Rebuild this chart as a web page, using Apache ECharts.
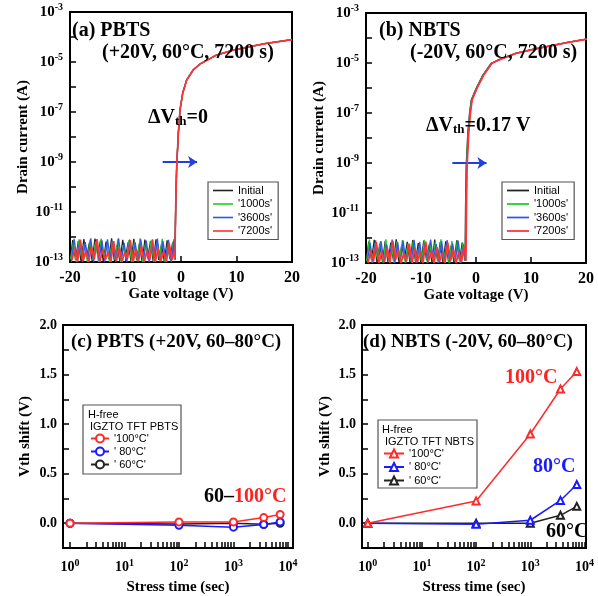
<!DOCTYPE html>
<html>
<head>
<meta charset="utf-8">
<script src="https://cdn.jsdelivr.net/npm/echarts@6/dist/echarts.min.js"></script>
<style>
  body { margin: 0; background: #fff; }
  #main { width: 598px; height: 596px; }
</style>
</head>
<body>
<div id="main"></div>
<script>
// transfer curves, (a) PBTS and (b) NBTS
const curveNames = ['Initial', "'1000s'", "'3600s'", "'7200s'"];
const curveColors = ['#222222', '#22cc22', '#3355ee', '#ff3333'];

// off-state sweep (gate voltage) and noise floor, in units of 1e-13 A
const vOffA = [-20, -19.5, -19, -18.5, -18, -17.5, -17, -16.5, -16, -15.5, -15, -14.5, -14, -13.5, -13, -12.5, -12, -11.5, -11,
  -10.5, -10, -9.5, -9, -8.5, -8, -7.5, -7, -6.5, -6, -5.5, -5, -4.5, -4, -3.5, -3, -2.5, -2, -1.5];
const vOffB = [-20, -19.5, -19, -18.5, -18, -17.5, -17, -16.5, -16, -15.5, -15, -14.5, -14, -13.5, -13, -12.5, -12, -11.5, -11,
  -10.5, -10, -9.5, -9, -8.5, -8, -7.5, -7, -6.5, -6, -5.5, -5, -4.5, -4, -3.5, -3, -2.5];
const sweepPhase = [0, 0.12, 0.25, 0.37];

const offA = [
  [1.1, 7.5, 1.2, 6.8, 1.0, 8.2, 1.5, 5.9, 1.1, 8.6, 2.0, 7.2, 1.0, 6.5, 1.3, 8.9, 1.1, 4.8, 1.0, 7.7, 1.6, 6.2, 1.0, 8.4, 1.2, 5.5, 1.0, 7.9, 1.4, 6.9, 1.0, 8.1, 1.2, 5.2, 1.0, 7.4, 1.3, 6.0],
  [1.3, 6.2, 1.0, 8.0, 1.4, 5.4, 1.0, 7.8, 1.2, 6.6, 1.0, 8.7, 1.5, 5.0, 1.0, 7.1, 1.2, 8.3, 1.0, 4.6, 1.3, 7.6, 1.0, 6.4, 1.1, 8.8, 1.0, 5.7, 1.2, 7.3, 1.0, 6.1, 1.4, 8.5, 1.0, 5.3, 1.1, 7.0],
  [1.0, 8.5, 1.2, 7.0, 1.0, 6.3, 1.3, 8.8, 1.0, 5.6, 1.1, 7.4, 1.0, 8.1, 1.4, 6.7, 1.0, 8.9, 1.2, 5.8, 1.0, 7.9, 1.3, 6.1, 1.0, 8.0, 1.2, 7.2, 1.0, 5.1, 1.1, 8.6, 1.0, 6.8, 1.3, 7.7, 1.0, 8.3],
  [1.2, 3.5, 1.0, 7.8, 1.1, 2.8, 1.0, 4.2, 1.3, 8.2, 1.0, 3.1, 1.2, 2.5, 1.0, 6.9, 1.1, 3.8, 1.0, 2.6, 1.4, 7.5, 1.0, 3.3, 1.1, 4.5, 1.0, 2.9, 1.2, 8.0, 1.0, 3.6, 1.1, 2.7, 1.0, 5.8, 1.2, 3.0]
];
const offB = [
  [1.0, 7.2, 1.3, 8.4, 1.0, 5.9, 1.1, 7.7, 1.0, 6.5, 1.2, 8.8, 1.0, 5.3, 1.4, 7.0, 1.0, 8.2, 1.1, 6.3, 1.0, 7.9, 1.3, 5.6, 1.0, 8.6, 1.2, 6.8, 1.0, 7.4, 1.1, 5.1, 1.0, 8.0, 1.2, 6.6],
  [1.2, 8.7, 1.0, 6.1, 1.3, 7.5, 1.0, 8.9, 1.1, 5.4, 1.0, 7.2, 1.4, 8.3, 1.0, 6.0, 1.2, 7.8, 1.0, 4.9, 1.1, 8.5, 1.0, 6.7, 1.3, 7.1, 1.0, 8.8, 1.1, 5.8, 1.0, 7.6, 1.2, 8.1, 1.0, 6.4],
  [1.1, 6.4, 1.0, 8.0, 1.2, 7.3, 1.0, 5.5, 1.3, 8.6, 1.0, 6.9, 1.1, 7.8, 1.0, 5.2, 1.2, 8.4, 1.0, 7.0, 1.1, 6.2, 1.0, 8.7, 1.3, 5.7, 1.0, 7.5, 1.1, 8.2, 1.0, 6.0, 1.2, 7.9, 1.0, 5.4],
  [1.0, 3.2, 1.2, 6.8, 1.0, 2.7, 1.1, 4.0, 1.0, 7.6, 1.3, 3.4, 1.0, 2.5, 1.2, 5.9, 1.0, 3.7, 1.1, 2.9, 1.0, 7.2, 1.2, 3.1, 1.0, 4.4, 1.1, 2.6, 1.0, 6.5, 1.2, 3.5, 1.0, 2.8, 1.1, 4.8]
];

// on-state part of the sweep (A)
const vOnA = [-1.1, -0.95, -0.78, -0.48, -0.18, 0.3, 1.02, 2.2, 3.42, 6.4, 9.4, 12.4, 15.4, 20];
const idOnA = [1.2e-13, 2e-11, 6.5e-10, 1.4e-8, 1.2e-7, 5.6e-7, 1.9e-6, 4.8e-6, 8.3e-6, 1.9e-5, 3.0e-5, 4.1e-5, 5.6e-5, 7.8e-5];
const vOnB = [-2.0, -1.9, -1.79, -1.5, -1.18, -0.87, 0.03, 1.24, 2.76, 4.27, 7.3, 10.3, 13.4, 16.4, 20];
const idOnB = [1.2e-13, 2e-11, 7e-10, 1.5e-8, 9.8e-8, 3.3e-7, 9.8e-7, 3.3e-6, 9.8e-6, 1.4e-5, 2.5e-5, 3.5e-5, 4.8e-5, 6.5e-5, 9e-5];
const vthShiftA = [0, 0, 0, 0];
const vthShiftB = [0, 0.06, 0.11, 0.17];

// Vth shift vs stress time, (c) PBTS and (d) NBTS
const stressTime = [1, 100, 1000, 3600, 7200];
const tempNames = ["'100°C'", "' 80°C'", "' 60°C'"];
const tempColors = ['#ff2a2a', '#1a1aff', '#222222'];
const pbtsShift = [
  [0, 0.013, 0.013, 0.057, 0.088],
  [0, -0.02, -0.04, -0.013, 0.013],
  [0, -0.007, 0, -0.01, 0]
];
const nbtsShift = [
  [0, 0.225, 0.9, 1.354, 1.53],
  [0, -0.01, 0.03, 0.23, 0.39],
  [0, 0, 0, 0.08, 0.17]
];

const decadeTicks = [1e-13, 1e-12, 1e-11, 1e-10, 1e-9, 1e-8, 1e-7, 1e-6, 1e-5, 1e-4, 1e-3];
const decadeLabels = [1e-13, 1e-11, 1e-9, 1e-7, 1e-5, 1e-3];
const timeLabels = [1, 10, 100, 1000, 10000];
const timeTicks = [];
[1, 10, 100, 1000].forEach(d => { for (let m = 1; m <= 9; m++) timeTicks.push(m * d); });
timeTicks.push(10000);

const SERIF = 'Liberation Serif, Times New Roman, serif';
const SANS = 'Liberation Sans, Arial, sans-serif';

const powRich = {
  b: { fontFamily: SERIF, fontWeight: 'bold', fontSize: 15, color: '#000' },
  sup: { fontFamily: SERIF, fontWeight: 'bold', fontSize: 10, color: '#000', padding: [0, 0, 9, 0] }
};
const powRichSmall = {
  b: { fontFamily: SERIF, fontWeight: 'bold', fontSize: 14, color: '#000' },
  sup: { fontFamily: SERIF, fontWeight: 'bold', fontSize: 10, color: '#000', padding: [0, 0, 9, 0] }
};
function powLabel(v) {
  const e = Math.round(Math.log10(v));
  return '{b|10}{sup|' + e + '}';
}

const frame = { onZero: false, lineStyle: { color: '#000', width: 2 } };
const nameStyle = { fontFamily: SERIF, fontWeight: 'bold', fontSize: 15, color: '#000' };
const lineIcon = 'path://M0,0 L20,0 L20,1.6 L0,1.6 Z';

function transferSeries(panel, offV, off, onV, onI, shift, arrow) {
  return curveNames.map((name, k) => {
    const data = offV.map((v, i) => [v + sweepPhase[k], off[k][i] * 1e-13])
      .concat(onV.map((v, i) => [v + shift[k], onI[i]]));
    const s = {
      name: name, type: 'line', xAxisIndex: panel, yAxisIndex: panel,
      symbol: 'none', data: data, z: 2 + k,
      lineStyle: { color: curveColors[k], width: k === 3 ? 1.7 : 1.3 },
      itemStyle: { color: curveColors[k] }
    };
    if (k === 3) {
      s.markLine = {
        silent: true, symbol: ['none', 'arrow'], symbolSize: 9,
        label: { show: false },
        lineStyle: { color: '#1e40e0', width: 2, type: 'solid' },
        data: [[{ coord: [arrow[0], 1e-9] }, { coord: [arrow[1], 1e-9] }]]
      };
    }
    return s;
  });
}

function shiftSeries(panel, values, symbol, suffix) {
  return tempNames.map((name, k) => ({
    name: name + suffix, type: 'line', xAxisIndex: panel, yAxisIndex: panel,
    symbol: symbol, symbolSize: 7, z: 5 - k,
    data: stressTime.map((t, i) => [t, values[k][i]]),
    lineStyle: { color: tempColors[k], width: 1.5 },
    itemStyle: { color: tempColors[k], borderColor: tempColors[k] }
  }));
}

function gateAxis(grid) {
  return {
    type: 'value', gridIndex: grid, min: -20, max: 20, interval: 10,
    axisLine: frame, splitLine: { show: false },
    axisTick: { inside: true, length: 6, lineStyle: { color: '#000', width: 1.5 } },
    axisLabel: { color: '#000', fontFamily: SERIF, fontWeight: 'bold', fontSize: 16, margin: 8 },
    name: 'Gate voltage (V)', nameLocation: 'middle', nameGap: 24, nameTextStyle: nameStyle
  };
}
function currentAxis(grid) {
  return {
    type: 'log', gridIndex: grid, min: 1e-13, max: 1e-3,
    axisLine: frame, splitLine: { show: false },
    axisTick: { inside: true, length: 6, customValues: decadeTicks, lineStyle: { color: '#000', width: 1.5 } },
    axisLabel: { customValues: decadeLabels, formatter: powLabel, rich: powRich, margin: 7 },
    name: 'Drain current (A)', nameLocation: 'middle', nameGap: 39, nameTextStyle: nameStyle
  };
}
function timeAxis(grid, min, max) {
  return {
    type: 'log', gridIndex: grid, min: min, max: max, position: 'bottom',
    axisLine: frame, splitLine: { show: false },
    axisTick: { inside: true, length: 6, customValues: timeTicks, lineStyle: { color: '#000', width: 1.5 } },
    axisLabel: { customValues: timeLabels, formatter: powLabel, rich: powRichSmall, margin: 10 },
    name: 'Stress time (sec)', nameLocation: 'middle', nameGap: 32, nameTextStyle: nameStyle
  };
}
function shiftAxis(grid, gap) {
  return {
    type: 'value', gridIndex: grid, min: -0.25, max: 2.0, interval: 0.25,
    axisLine: frame, splitLine: { show: false },
    axisTick: { inside: true, length: 6, lineStyle: { color: '#000', width: 1.5 } },
    axisLabel: { color: '#000', fontFamily: SERIF, fontWeight: 'bold', fontSize: 14, margin: 6,
      formatter: v => (v >= 0 && Math.abs(v * 2 - Math.round(v * 2)) < 1e-6) ? v.toFixed(1) : '' },
    name: 'Vth shift (V)', nameLocation: 'middle', nameGap: gap, nameTextStyle: nameStyle
  };
}

function label(text, left, cy, size, color, rich) {
  return {
    type: 'text', left: left, top: cy - size / 2 - 1, z: 20,
    style: { text: text, font: 'bold ' + size + 'px ' + SERIF, fill: color || '#000', rich: rich }
  };
}
function smallText(text, left, cy) {
  return { type: 'text', left: left, top: cy - 6, z: 20, style: { text: text, font: '11px ' + SANS, fill: '#000' } };
}
function box(x, y, w, h) {
  return { type: 'rect', shape: { x: x, y: y, width: w, height: h }, z: 15,
    style: { fill: '#fff', stroke: '#555', lineWidth: 1.2 } };
}
const subRich = {
  s: { fontFamily: SERIF, fontWeight: 'bold', fontSize: 13, fill: '#000', padding: [8, 0, 0, 0] }
};
const legendText = { fontFamily: SANS, fontSize: 11, color: '#000' };

const chart = echarts.init(document.getElementById('main'));
chart.setOption({
  animation: false,
  backgroundColor: '#fff',
  grid: [
    { left: 70, top: 12, width: 222, height: 250, show: true, borderColor: '#000', borderWidth: 2 },
    { left: 366, top: 13, width: 220, height: 250, show: true, borderColor: '#000', borderWidth: 2 },
    { left: 63, top: 325, width: 230, height: 223, show: true, borderColor: '#000', borderWidth: 2 },
    { left: 362, top: 325, width: 224, height: 223, show: true, borderColor: '#000', borderWidth: 2 }
  ],
  xAxis: [
    gateAxis(0), gateAxis(1),
    timeAxis(2, 0.743, 12400), timeAxis(3, 0.785, 10660)
  ],
  yAxis: [currentAxis(0), currentAxis(1), shiftAxis(2, 30), shiftAxis(3, 29)],
  legend: [
    { orient: 'vertical', left: 208, top: 182, data: curveNames, itemWidth: 20, itemHeight: 10, itemGap: 2.5, icon: lineIcon,
      padding: [3, 6, 3, 5], borderColor: '#555', borderWidth: 1.2, backgroundColor: '#fff', textStyle: legendText, selectedMode: false },
    { orient: 'vertical', left: 502, top: 182, data: curveNames, itemWidth: 22, itemHeight: 10, itemGap: 2.5, icon: lineIcon,
      padding: [3, 6, 3, 5], borderColor: '#555', borderWidth: 1.2, backgroundColor: '#fff', textStyle: legendText, selectedMode: false },
    { orient: 'vertical', left: 90, top: 433, data: tempNames, itemWidth: 18, itemHeight: 10, itemGap: 2,
      padding: 0, textStyle: legendText, selectedMode: false, z: 20 },
    { orient: 'vertical', left: 383, top: 448, data: tempNames.map(n => n + '\u200b'), itemWidth: 20, itemHeight: 10, itemGap: 2.5,
      padding: 0, textStyle: legendText, selectedMode: false, z: 20, formatter: n => n.replace('\u200b', '') }
  ],
  graphic: [
    label('(a) PBTS', 72, 32, 20),
    label('(+20V, 60°C, 7200 s)', 102, 54, 20),
    label('ΔV{s|th}=0', 148, 119, 20, '#000', subRich),
    label('(b) NBTS', 379, 32, 20),
    label('(-20V, 60°C, 7200 s)', 410, 54, 20),
    label('ΔV{s|th}=0.17 V', 426, 127, 20, '#000', subRich),
    label('(c) PBTS (+20V, 60–80°C)', 71, 343, 19),
    label('{k|60–}{r|100°C}', 204, 498, 20, '#000', {
      k: { fontFamily: SERIF, fontWeight: 'bold', fontSize: 20, fill: '#000' },
      r: { fontFamily: SERIF, fontWeight: 'bold', fontSize: 20, fill: '#ff2020' } }),
    label('(d) NBTS (-20V, 60–80°C)', 363, 343, 19),
    label('100°C', 505, 379, 20, '#ff2020'),
    label('80°C', 533, 468, 20, '#1a1aff'),
    label('60°C', 546, 533, 20, '#000'),
    box(83, 405, 98, 69),
    smallText('H-free', 88, 415),
    smallText('IGZTO TFT PBTS', 90, 427),
    box(378, 420, 99, 68),
    smallText('H-free', 382, 430),
    smallText('IGZTO TFT NBTS', 385, 442)
  ],
  series: [].concat(
    transferSeries(0, vOffA, offA, vOnA, idOnA, vthShiftA, [-3.3, 2.9]),
    transferSeries(1, vOffB, offB, vOnB, idOnB, vthShiftB, [-4.3, 1.9]),
    shiftSeries(2, pbtsShift, 'emptyCircle', ''),
    shiftSeries(3, nbtsShift, 'emptyTriangle', '\u200b')
  )
});
</script>
</body>
</html>
